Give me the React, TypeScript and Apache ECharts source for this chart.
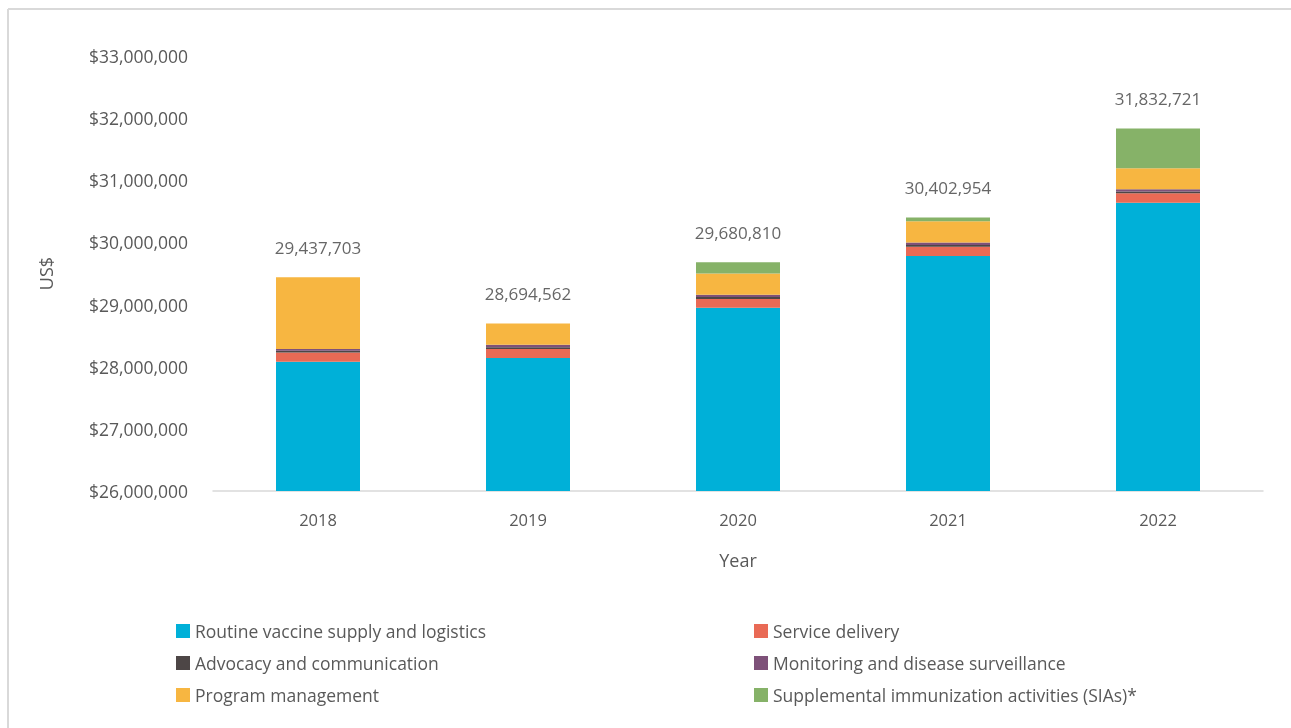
import React, { useEffect, useRef } from "react";
import * as echarts from "echarts";

const years = ["2018", "2019", "2020", "2021", "2022"];
const routineVaccine = [28080000, 28140000, 28950000, 29780000, 30640000];
const serviceDelivery = [150000, 145000, 140000, 150000, 150000];
const advocacy = [25000, 30000, 30000, 30000, 30000];
const monitoring = [30000, 40000, 40000, 40000, 35000];
const programMgmt = [1152703, 339562, 340000, 340000, 340000];
const sias = [0, 0, 180810, 62954, 637721];
const totals = [29437703, 28694562, 29680810, 30402954, 31832721];

const seriesDefs = [
  { name: "Routine vaccine supply and logistics", data: routineVaccine, color: "#00B0D8" },
  { name: "Service delivery", data: serviceDelivery, color: "#E96A55" },
  { name: "Advocacy and communication", data: advocacy, color: "#4D4646" },
  { name: "Monitoring and disease surveillance", data: monitoring, color: "#7E5179" },
  { name: "Program management", data: programMgmt, color: "#F7B641" },
  { name: "Supplemental immunization activities (SIAs)*", data: sias, color: "#86B268" },
];

const FONT = "'Open Sans', Lato, sans-serif";

export default function App() {
  const ref = useRef<HTMLDivElement>(null);
  useEffect(() => {
    if (!ref.current) return;
    const chart = echarts.init(ref.current, undefined, { renderer: "svg" });
    const fmt = (v: number) => v.toLocaleString("en-US");
    const legendBase = {
      orient: "vertical",
      top: 622,
      padding: 0,
      itemWidth: 14,
      itemHeight: 14,
      itemGap: 14,
      itemTextGap: 6,
      icon: "rect",
      textStyle: { fontSize: 17.5, color: "#595959", fontFamily: FONT },
    };
    chart.setOption({
      animation: false,
      textStyle: { fontFamily: FONT },
      graphic: [
        { type: "line", shape: { x1: 8, y1: 9, x2: 1291, y2: 9 }, style: { stroke: "#d9d9d9", lineWidth: 2 } },
        { type: "line", shape: { x1: 8, y1: 9, x2: 8, y2: 728 }, style: { stroke: "#d9d9d9", lineWidth: 2 } },
      ],
      grid: { left: 213, right: 28, top: 56, bottom: 237 },
      legend: [
        { ...legendBase, left: 176, data: [seriesDefs[0].name, seriesDefs[2].name, seriesDefs[4].name] },
        { ...legendBase, left: 754, data: [seriesDefs[1].name, seriesDefs[3].name, seriesDefs[5].name] },
      ],
      xAxis: {
        type: "category",
        data: years,
        name: "Year",
        nameLocation: "middle",
        nameGap: 60,
        nameTextStyle: { fontSize: 18, color: "#595959" },
        axisLine: { lineStyle: { color: "#d9d9d9", width: 1.5 } },
        axisTick: { show: false },
        axisLabel: { fontSize: 16.5, color: "#595959", margin: 20 },
      },
      yAxis: {
        type: "value",
        min: 26000000,
        max: 33000000,
        interval: 1000000,
        name: "US$",
        nameLocation: "middle",
        nameGap: 158,
        nameTextStyle: { fontSize: 18, color: "#595959" },
        splitLine: { show: false },
        axisLine: { show: false },
        axisTick: { show: false },
        axisLabel: { fontSize: 17.5, color: "#595959", margin: 25, formatter: (v: number) => "$" + fmt(v) },
      },
      series: [
        ...seriesDefs.map((s) => ({
          name: s.name,
          type: "bar",
          stack: "total",
          barWidth: "40%",
          data: s.data,
          itemStyle: { color: s.color },
        })),
        {
          type: "scatter",
          data: totals,
          symbolSize: 1,
          itemStyle: { color: "transparent" },
          silent: true,
          label: {
            show: true,
            position: "top",
            distance: 21,
            fontSize: 17,
            color: "#404040",
            formatter: (p: any) => fmt(p.value),
          },
        },
      ],
    });
    return () => chart.dispose();
  }, []);
  return <div ref={ref} style={{ position: "fixed", left: 0, top: 0, width: 1291, height: 728 }} />;
}
